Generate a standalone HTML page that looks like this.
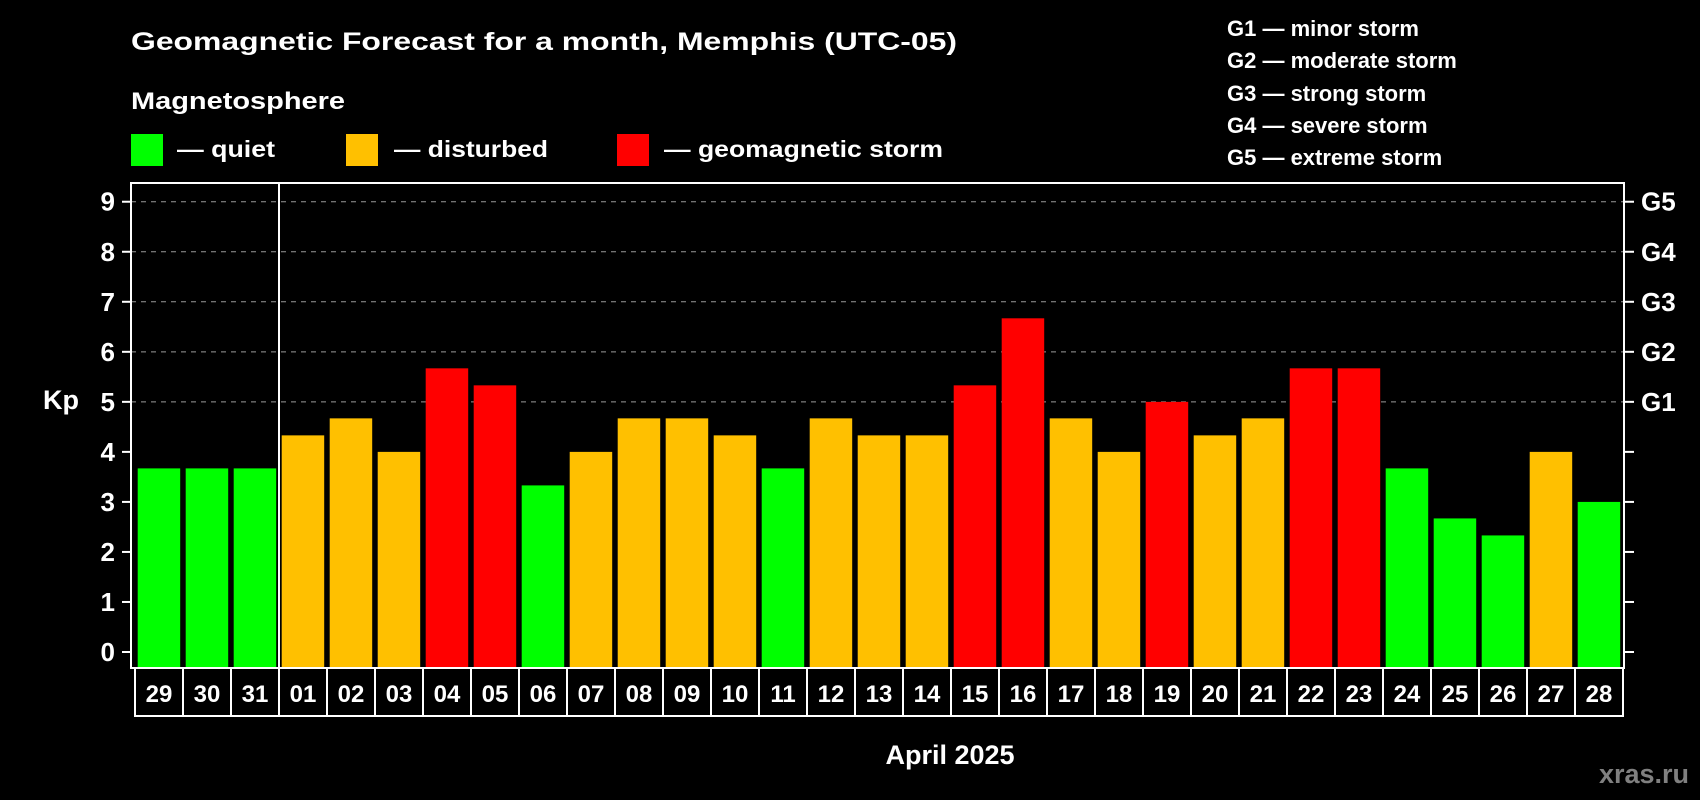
<!DOCTYPE html>
<html><head><meta charset="utf-8"><style>
html,body{margin:0;padding:0;background:#000;}
svg{display:block;font-family:"Liberation Sans",Arial,sans-serif;font-weight:bold;}
</style></head><body>
<svg id="chart" width="1700" height="800" viewBox="0 0 1700 800" xmlns="http://www.w3.org/2000/svg">
<rect width="1700" height="800" fill="#000"/>
<text x="131" y="50" fill="#fff" font-size="25" textLength="826" lengthAdjust="spacingAndGlyphs">Geomagnetic Forecast for a month, Memphis (UTC-05)</text>
<text x="131" y="109" fill="#fff" font-size="24" textLength="214" lengthAdjust="spacingAndGlyphs">Magnetosphere</text>
<g>
<rect x="131" y="134" width="32" height="32" fill="#00ff00"/>
<text x="177" y="157" fill="#fff" font-size="23" textLength="98" lengthAdjust="spacingAndGlyphs">— quiet</text></g>
<g>
<rect x="346" y="134" width="32" height="32" fill="#ffc000"/>
<text x="394" y="157" fill="#fff" font-size="23" textLength="154" lengthAdjust="spacingAndGlyphs">— disturbed</text></g>
<g>
<rect x="617" y="134" width="32" height="32" fill="#ff0000"/>
<text x="664" y="157" fill="#fff" font-size="23" textLength="279" lengthAdjust="spacingAndGlyphs">— geomagnetic storm</text></g>
<g fill="#fff" font-size="22">
<text x="1227" y="36">G1 — minor storm</text>
<text x="1227" y="68">G2 — moderate storm</text>
<text x="1227" y="101">G3 — strong storm</text>
<text x="1227" y="133">G4 — severe storm</text>
<text x="1227" y="165">G5 — extreme storm</text>
</g>
<text x="43" y="409" fill="#fff" font-size="27">Kp</text>
<text x="950" y="764" fill="#fff" font-size="27" text-anchor="middle">April 2025</text>
<text x="1689" y="783" fill="#808080" font-size="27" text-anchor="end">xras.ru</text>
<g id="grid"></g><g id="bars"></g><g id="axes"></g>
</svg>
<script>
const days = ["29","30","31","01","02","03","04","05","06","07","08","09","10","11","12","13","14","15","16","17","18","19","20","21","22","23","24","25","26","27","28"];
const kpValues = [3.67,3.67,3.67,4.33,4.67,4,5.67,5.33,3.33,4,4.67,4.67,4.33,3.67,4.67,4.33,4.33,5.33,6.67,4.67,4,5,4.33,4.67,5.67,5.67,3.67,2.67,2.33,4,3];
const yTicks = [0,1,2,3,4,5,6,7,8,9];
const gLabels = ["G1","G2","G3","G4","G5"];
const gLevels = [5,6,7,8,9];

const NS="http://www.w3.org/2000/svg";
const L=131,R=1624,T=183,B=668;
const x0=137.7,pitch=48,bw=42.5;
function y(v){return 652-v*50.03;}
function xs(i){return x0+i*pitch;}
function mk(tag,attrs,parent){const e=document.createElementNS(NS,tag);for(const k in attrs)e.setAttribute(k,attrs[k]);parent.appendChild(e);return e;}
const grid=document.getElementById('grid'),bars=document.getElementById('bars'),axes=document.getElementById('axes');
gLevels.forEach(v=>{
  const l=mk('line',{x1:L,x2:R,y1:y(v),y2:y(v),stroke:'#999','stroke-width':1,'stroke-dasharray':'5,5'},grid);
  
  
});
kpValues.forEach((v,i)=>{
  const c=v>=5?'#ff0000':(v>=4?'#ffc000':'#00ff00');
  const r=mk('rect',{x:xs(i),y:y(v),width:bw,height:B-y(v),fill:c},bars);
  
  
});
const frame=mk('rect',{x:L,y:T,width:R-L,height:B-T,fill:'none',stroke:'#fff','stroke-width':2},axes);


const sep=mk('line',{x1:279,x2:279,y1:T,y2:B,stroke:'#fff','stroke-width':2},axes);


yTicks.forEach(v=>{
  mk('line',{x1:122,x2:L,y1:y(v),y2:y(v),stroke:'#fff','stroke-width':2},axes);
  mk('line',{x1:R,x2:1634,y1:y(v),y2:y(v),stroke:'#fff','stroke-width':2},axes);
  const t=mk('text',{x:115,y:y(v)+9,fill:'#fff','font-size':26,'text-anchor':'end'},axes);
  t.textContent=v;
  
  
});
gLabels.forEach((g,i)=>{
  const t=mk('text',{x:1641,y:y(gLevels[i])+9,fill:'#fff','font-size':26},axes);
  t.textContent=g;
  
  
});
const cellL=135,cellR=1623,cw=(cellR-cellL)/days.length;
mk('rect',{x:cellL,y:B,width:cellR-cellL,height:48,fill:'none',stroke:'#fff','stroke-width':2},axes);
days.forEach((d,i)=>{
  if(i>0) mk('line',{x1:cellL+i*cw,x2:cellL+i*cw,y1:B,y2:B+48,stroke:'#fff','stroke-width':2},axes);
  const t=mk('text',{x:cellL+(i+0.5)*cw,y:B+34,fill:'#fff','font-size':24,'text-anchor':'middle'},axes);
  t.textContent=d;
  
  
});
</script>
</body></html>
